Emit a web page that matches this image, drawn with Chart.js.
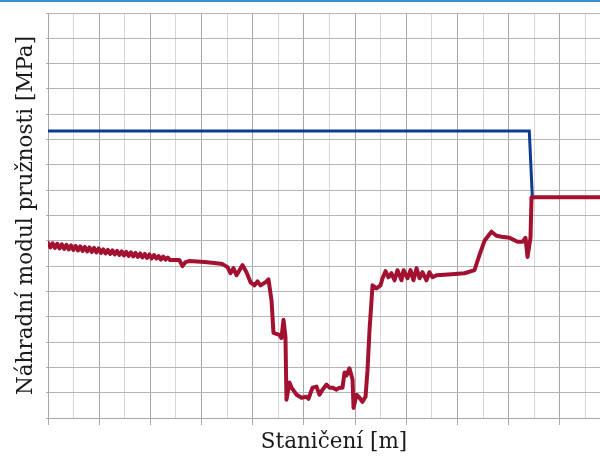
<!DOCTYPE html>
<html>
<head>
<meta charset="utf-8">
<script src="https://cdn.jsdelivr.net/npm/chart.js@4"></script>
<style>
  html, body { margin: 0; padding: 0; background: #fff; }
  #wrap { position: relative; width: 600px; height: 457px; overflow: hidden; }
  #topline { position: absolute; left: 0; top: 0; width: 600px; height: 2px; background: #3b8fd3; z-index: 2; }
  #graf { position: absolute; left: 0; top: 0; }
</style>
</head>
<body>
<div id="wrap">
  <div id="topline"></div>
  <canvas id="graf" width="621" height="457"></canvas>
</div>
<script>
// staniceni [m] a modul [MPa]
const redX = [
  0, 2.25, 4.5, 6.75, 9, 11.25, 13.5, 15.75, 18, 20.25, 22.5, 24.75, 27, 29.25, 31.5, 33.75,
  36, 38.25, 40.5, 42.75, 45, 47.25, 49.5, 51.75, 54, 56.25, 58.5, 60.75, 63, 65.25, 67.5, 69.75,
  72, 74.25, 76.5, 78.75, 81, 83.25, 85.5, 87.75, 90, 92.25, 94.5, 96.75, 99, 101.25, 103.5, 105.75,
  108, 110.25, 112.5, 114.75, 117, 119.25,
  120.6, 128.2, 131.3, 134.3, 138.2, 152.8, 162.6, 170.4, 175.3, 178.2, 181.2, 184.1, 190, 193.8,
  197.8, 201.7, 204.6, 207.5, 212.4, 215.3, 218.3, 220.2, 226, 228, 230, 231.9, 232.9, 235.8,
  237.8, 242.7, 247.6, 252.4, 254.4, 258.3, 262.2, 265.1, 268.1, 272, 274.9, 277.8, 281.7, 284.7,
  287.6, 289.6, 291.5, 294.4, 297.4, 298.4, 301.3, 304.2, 307.1, 310.1, 312, 314, 316, 316.9,
  320.8, 324.7, 326.7, 329.6, 332.5, 335.4, 338.4, 341.3, 345.2, 347.2, 351.1, 354, 356.9, 359.9,
  362.8, 365.7, 369.6, 372.5, 375.5, 379.4, 394, 406.8, 416.5, 421.4, 426.3, 433.1, 438, 442.9,
  450.7, 458.5, 463.4, 466.3, 468.3, 471.2, 472.2, 560
];
const redY = [
  173, 168.5, 172.5, 168, 172, 167.5, 171.5, 167, 171, 166.5, 170.5, 166, 170, 165.5, 169.5, 165,
  169, 164.5, 168.5, 164, 168, 163.5, 167.5, 163, 166.5, 162.5, 166, 162, 165.5, 161.5, 165, 161,
  164.5, 160.5, 164, 160, 163.5, 159.5, 163, 159, 162.5, 158.5, 162, 158, 161.5, 157.5, 161, 157.5,
  160, 156.5, 159.5, 156.5, 158.5, 156,
  156, 156, 150, 154, 155, 154, 153, 152, 149, 143, 148, 141, 151, 144,
  134, 131, 135, 131, 134, 137, 116, 84, 82, 79, 97, 80, 18, 35,
  30, 23, 20, 21, 19, 30, 31, 23, 28, 33, 30, 30, 28, 30,
  30, 45, 42, 49, 38, 10, 23, 20, 16, 21, 47, 87, 117, 131,
  128, 131, 138, 145, 139, 143, 136, 146, 136, 146, 138, 146, 136, 148,
  138, 144, 136, 144, 139, 141, 142, 143, 146, 161, 175, 184, 180, 179,
  178, 174, 174, 178, 159, 178, 218, 218
];
const blueX = [0, 470, 473];
const blueY = [283.5, 283.5, 218];

function body(xs, ys) {
  return xs.map((x, i) => ({ x: x, y: ys[i] }));
}

const fontTitul = { family: "DejaVu Serif", size: 21.5 };

new Chart(document.getElementById("graf"), {
  type: "line",
  data: {
    datasets: [
      {
        data: body(redX, redY),
        borderColor: "#a31131",
        borderWidth: 4,
        pointRadius: 0,
        tension: 0,
        borderJoinStyle: "round",
        borderCapStyle: "round",
      },
      {
        data: body(blueX, blueY),
        borderColor: "#0c3c91",
        borderWidth: 3,
        pointRadius: 0,
        tension: 0,
      },
    ],
  },
  options: {
    responsive: false,
    animation: false,
    layout: { padding: { top: 13, right: 1, left: 0, bottom: 0 } },
    plugins: { legend: { display: false }, tooltip: { enabled: false } },
    scales: {
      x: {
        type: "linear",
        min: 0,
        max: 558.6,
        ticks: { stepSize: 25, display: false },
        grid: {
          color: ctx => (ctx.tick && ctx.tick.value % 50 === 0 ? "#a8a8a8" : "#d6d6d6"),
          tickColor: ctx => (ctx.tick && ctx.tick.value % 50 === 0 ? "#a8a8a8" : "rgba(0,0,0,0)"),
          tickLength: 7,
        },
        border: { display: true, color: "#a8a8a8" },
        title: {
          display: true,
          text: "Staničení [m]",
          color: "#1a1a1a",
          font: fontTitul,
          padding: { top: 0, bottom: 2 },
        },
        afterFit: s => { s.height = 39; },
      },
      y: {
        min: 0,
        max: 400,
        ticks: { stepSize: 25, display: false },
        grid: { color: "#b4b4b4", tickColor: "#b4b4b4", tickLength: 2 },
        border: { display: true, color: "#a8a8a8" },
        title: {
          display: true,
          text: "Náhradní modul pružnosti [MPa]",
          color: "#1a1a1a",
          font: fontTitul,
          padding: { top: 14, bottom: 0 },
        },
        afterFit: s => { s.width = 48; },
      },
    },
  },
});
</script>
</body>
</html>
